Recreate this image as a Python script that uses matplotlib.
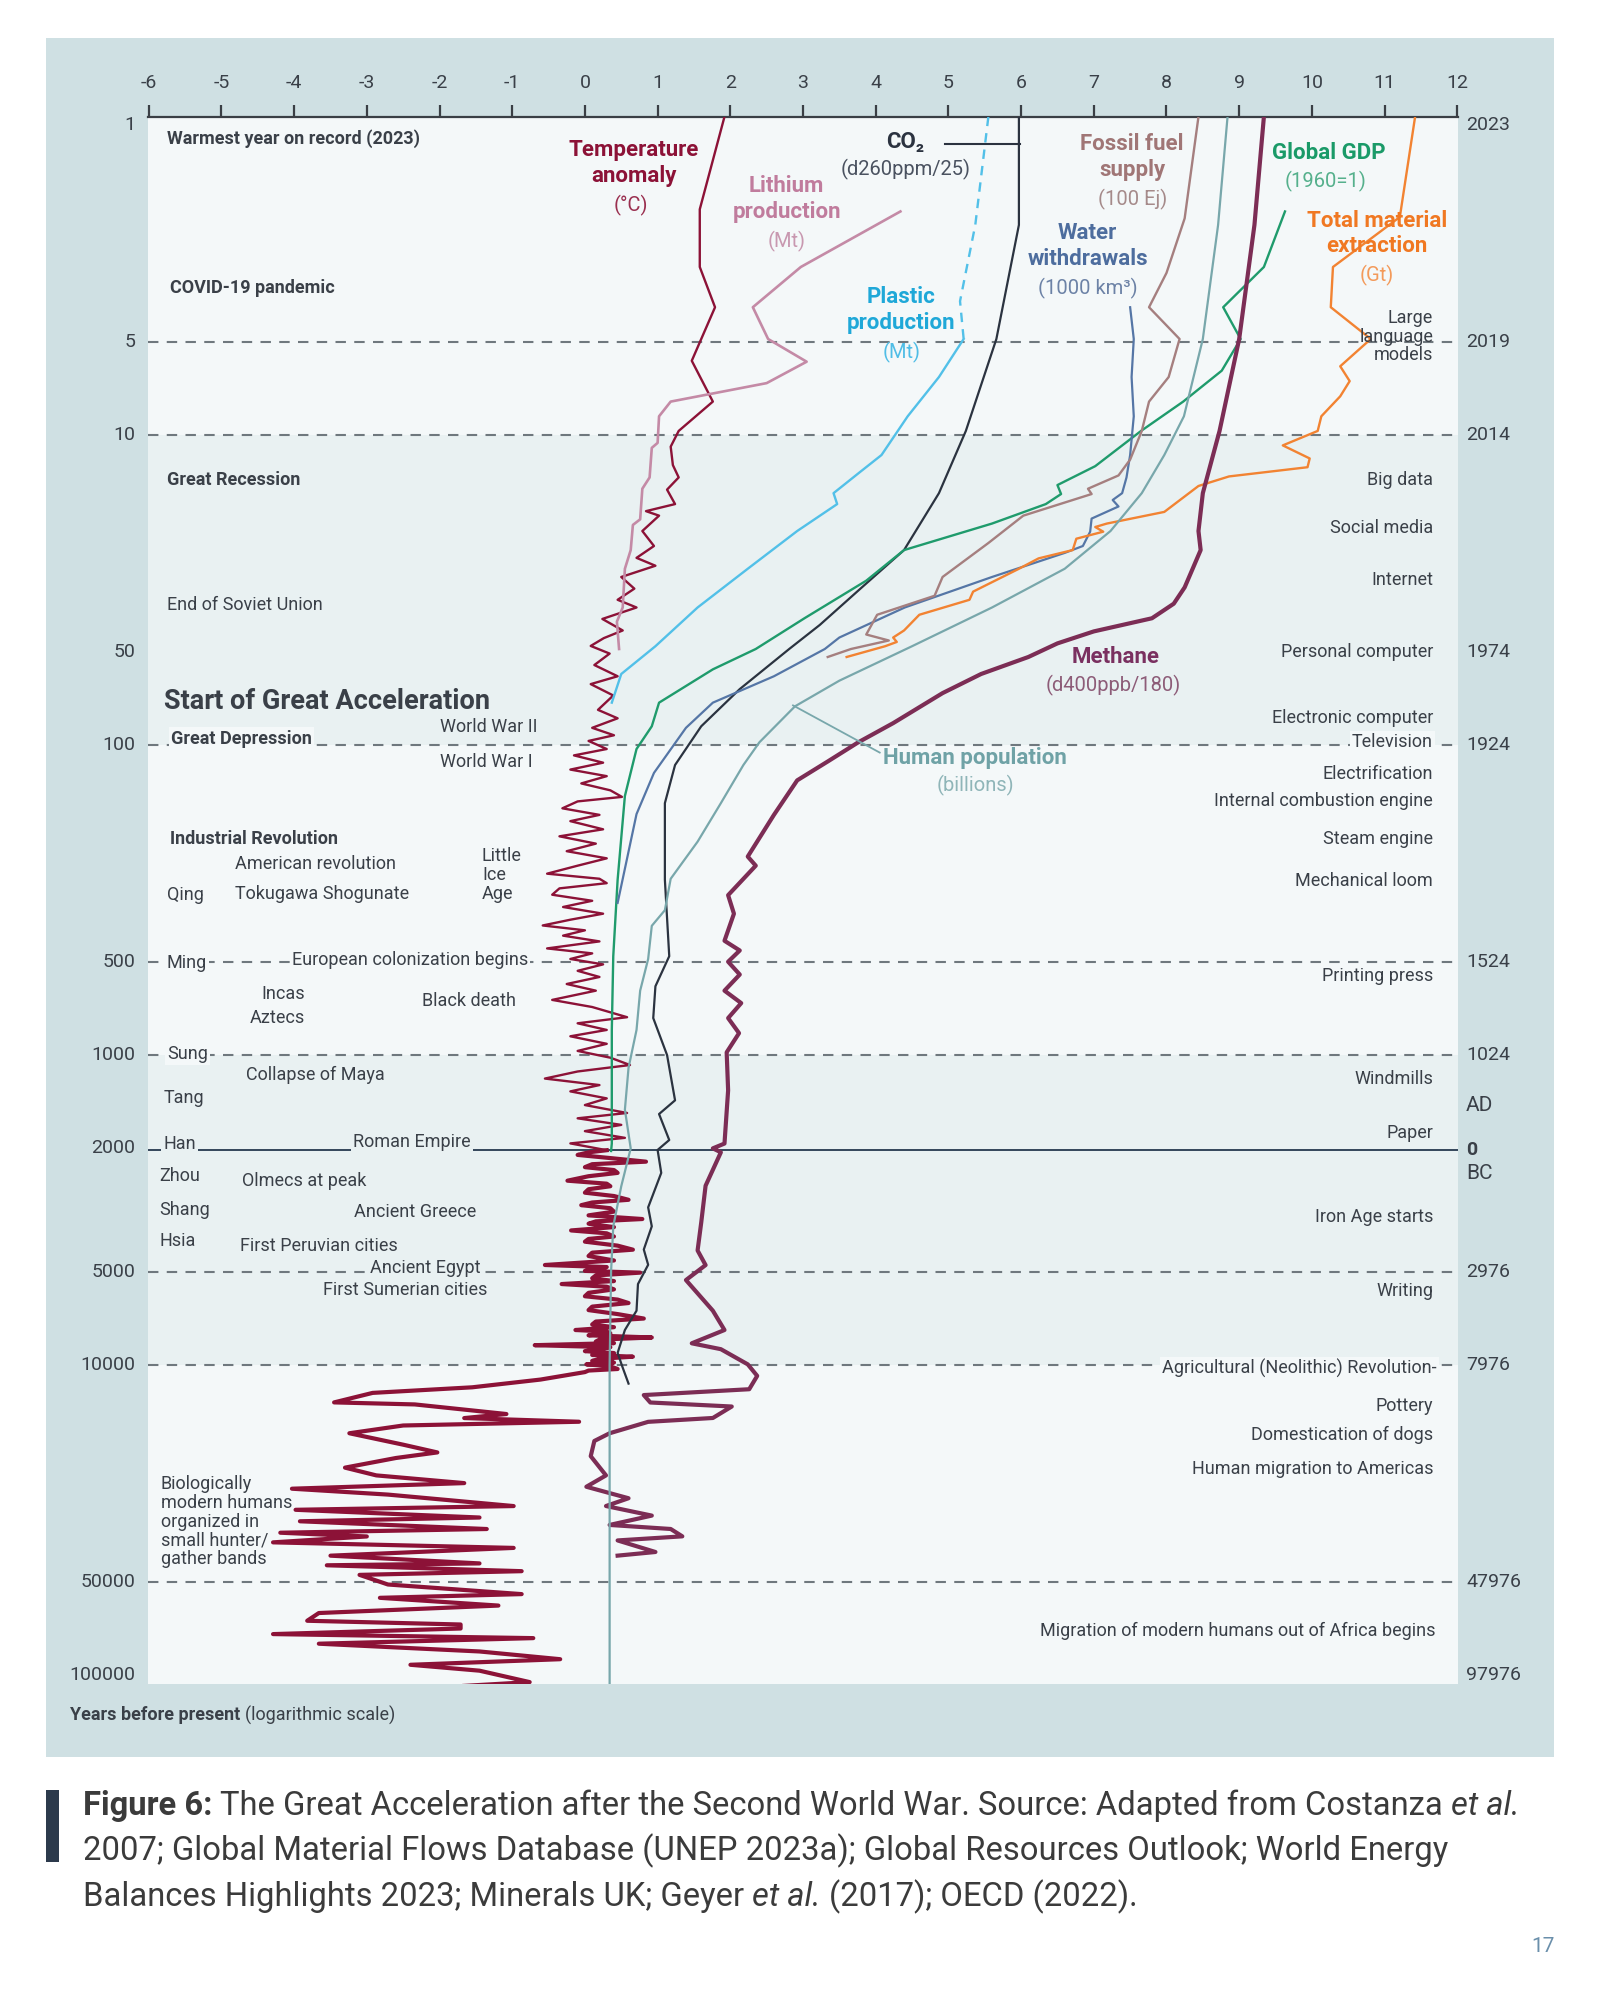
import numpy as np
import matplotlib
matplotlib.use('Agg')
import matplotlib.pyplot as plt
from matplotlib import transforms
from matplotlib.patches import Rectangle
from matplotlib.ticker import NullLocator

plt.rcParams['font.family'] = ['Roboto', 'DejaVu Sans']

# ---------------- data (years before present, chart value) ----------------
x_ticks = list(range(-6, 13))
left_ticks = [1, 5, 10, 50, 100, 500, 1000, 2000, 5000, 10000, 50000, 100000]
left_labels = ['1', '5', '10', '50', '100', '500', '1000', '2000', '5000', '10000', '50000', '100000']
right_ticks = [1, 5, 10, 50, 100, 500, 1000, 2024, 5000, 10000, 50000, 100000]
right_labels = ['2023', '2019', '2014', '1974', '1924', '1524', '1024', '0', '2976', '7976', '47976', '97976']
dashed_years = [5, 10, 100, 500, 1000, 5000, 10000, 50000]
ad_year = 2024

temperature_recent = [
    (0.94, 1.92), (1.87, 1.58), (2.87, 1.58), (3.87, 1.79), (5.76, 1.47), (7.8, 1.76), (9.7, 1.29),
    (10.9, 1.18), (12.5, 1.21), (13.7, 1.29), (15, 1.13), (16.7, 1.24), (17.6, 0.84), (18.2, 1.02),
    (20.4, 0.79), (22.8, 0.95), (24.9, 0.71), (26.4, 0.97), (28.7, 0.50), (31.3, 0.68), (34, 0.45),
    (36, 0.71), (39.2, 0.24), (42.7, 0.52), (45.2, 0.26), (47.9, 0.08), (50.7, 0.34), (55.2, 0.13),
    (60, 0.45), (63.6, 0.08), (69.2, 0.39), (77, 0.18), (82, 0.45), (88, 0.10), (93, 0.40), (97, 0.05),
    (103, 0.30), (108, -0.15), (114, 0.25), (120, -0.20), (126, 0.30), (133, -0.05), (140, 0.35),
    (147, 0.51), (152, -0.10), (160, -0.31), (168, 0.20), (176, -0.20), (187, 0.25), (197, -0.35),
    (208, 0.15), (220, -0.25), (232, 0.30), (245, -0.10), (260, -0.52), (270, 0.20), (279, 0.30),
    (290, -0.35), (304, -0.45), (318, 0.10), (333, -0.30), (350, 0.25), (366, -0.20), (382, -0.58),
    (396, 0.00), (412, -0.30), (430, 0.20), (453, -0.52), (470, 0.10), (490, -0.20), (510, 0.25),
    (535, -0.10), (560, 0.20), (590, -0.25), (620, 0.15), (664, -0.45), (700, 0.10), (755, 0.58),
    (790, -0.10), (830, 0.30), (870, -0.20), (920, 0.30), (970, -0.10), (1020, 0.35), (1077, 0.62),
    (1130, -0.10), (1191, -0.55), (1250, 0.20), (1310, -0.20), (1380, 0.30), (1450, 0.00), (1538, 0.58),
    (1600, -0.10), (1680, 0.50), (1760, 0.00), (1850, 0.55), (1928, -0.20)]

temperature_ancient = [
    (2028, 0.30), (2060, 0.05), (2100, -0.10), (2150, 0.35), (2208, 0.84), (2250, 0.10), (2300, 0.00),
    (2350, 0.40), (2400, 0.45), (2460, 0.05), (2543, -0.24), (2600, 0.30), (2650, 0.35), (2710, 0.05),
    (2780, 0.00), (2850, 0.40), (2931, 0.60), (2990, 0.10), (3050, -0.05), (3120, 0.35), (3200, 0.40),
    (3290, 0.05), (3381, 0.79), (3440, 0.15), (3500, 0.05), (3590, 0.40), (3680, -0.19), (3760, 0.30),
    (3850, 0.40), (3920, 0.05), (4000, 0.00), (4120, 0.45), (4245, 0.66), (4340, 0.10), (4450, 0.05),
    (4600, 0.40), (4757, -0.55), (4830, 0.30), (4900, 0.20), (4970, 0.00), (5035, 0.76), (5140, 0.15),
    (5250, 0.10), (5360, 0.40), (5480, -0.32), (5590, 0.30), (5700, 0.40), (5850, 0.05), (6000, 0.00),
    (6150, 0.45), (6310, 0.60), (6480, 0.10), (6650, 0.05), (6850, 0.45), (7080, 0.81), (7240, 0.15),
    (7400, 0.10), (7550, 0.40), (7710, -0.13), (7800, 0.30), (7900, 0.35), (8020, 0.05), (8150, 0.92),
    (8280, 0.20), (8400, 0.15), (8500, 0.40), (8630, -0.69), (8760, 0.35), (8900, 0.20), (9020, 0.00),
    (9150, 0.40), (9280, 0.10), (9400, 0.66), (9550, 0.20), (9700, 0.10), (9820, 0.40), (9950, 0.02),
    (10100, 0.35), (10300, 0.45), (10420, 0.05), (10540, 0.00),
    (11140, -0.61), (11800, -1.55), (12300, -2.92), (13200, -3.45), (13400, -2.34), (14390, -1.08),
    (14830, -1.66), (15240, -0.08), (15670, -2.50), (16600, -3.24), (18070, -2.50), (19140, -2.03),
    (19950, -2.60), (21430, -3.30), (22700, -2.87), (24040, -1.66), (25060, -4.03), (26180, -2.71),
    (28510, -0.98), (29310, -3.98), (31040, -1.45), (31920, -3.92), (33810, -1.35), (34750, -4.19),
    (35730, -3.00), (37330, -4.29), (38900, -0.98), (41210, -3.50), (43650, -1.45), (44260, -3.55),
    (46240, -0.87), (47530, -3.10), (51050, -2.71), (54830, -0.87), (56360, -2.82), (59700, -1.19),
    (63100, -3.66), (66830, -3.82), (68710, -1.71), (70790, -1.71), (73790, -4.29), (76030, -0.71),
    (79250, -3.66), (83950, -1.45), (88920, -0.34), (92680, -2.40), (96830, -1.45), (105400, -0.76),
    (108400, -1.66)]

lithium = [(1.9, 4.34), (2.87, 2.97), (3.87, 2.31), (4.9, 2.52), (5.8, 3.05), (6.8, 2.50), (7.8, 1.18),
           (8.7, 1.02), (10.6, 1.00), (11, 0.92), (13.7, 0.89), (14.9, 0.79), (18.7, 0.76), (19.5, 0.66),
           (23.5, 0.63), (27, 0.55), (36, 0.52), (40, 0.44), (49, 0.47)]

co2 = [(0.94, 5.97), (2.1, 5.97), (4.9, 5.66), (9.7, 5.24), (15.4, 4.87), (23.5, 4.39), (31, 3.81),
       (41, 3.23), (49, 2.81), (66, 2.13), (87, 1.60), (116, 1.24), (154, 1.10), (272, 1.10), (480, 1.16),
       (600, 0.97), (760, 0.94), (1000, 1.13), (1400, 1.24), (1550, 1.02), (1880, 1.16), (2024, 1.00),
       (2400, 1.05), (3100, 0.87), (3570, 0.92), (4240, 0.81), (4750, 0.87), (5480, 0.73), (6680, 0.71),
       (7710, 0.55), (9140, 0.45), (10200, 0.52), (11480, 0.60)]

plastic_projection = [(0.94, 5.55), (2.1, 5.37), (3.7, 5.16), (4.9, 5.21)]
plastic = [(4.9, 5.21), (6.5, 4.87), (8.7, 4.44), (11.6, 4.08), (13.3, 3.76), (15.4, 3.42), (16.7, 3.47),
           (20.4, 2.92), (27, 2.24), (36, 1.55), (48, 0.97), (59, 0.50), (73, 0.37)]

fossil = [(0.94, 8.44), (2.0, 8.25), (3.0, 8.0), (3.87, 7.76), (4.9, 8.18), (6.5, 8.03), (7.8, 7.76),
          (9.7, 7.66), (12, 7.5), (13.5, 7.34), (14.9, 6.92), (15.5, 6.97), (18.2, 6.03), (22.3, 5.55),
          (28.7, 4.92), (33, 4.81), (38, 4.02), (44, 3.87), (46, 4.18), (49, 3.66), (52, 3.34)]

water = [(3.87, 7.50), (4.9, 7.55), (6.5, 7.52), (8.7, 7.55), (11.6, 7.50), (13.7, 7.45), (15.4, 7.39),
         (16.2, 7.26), (17, 7.34), (18.6, 6.97), (20.5, 6.95), (22.8, 6.85), (24, 6.6), (28.7, 5.6),
         (36, 4.4), (45, 3.5), (49, 3.3), (60, 2.6), (73, 1.76), (88, 1.39), (123, 0.95), (167, 0.71),
         (323, 0.45)]

gdp = [(1.9, 9.63), (2.87, 9.34), (3.87, 8.78), (4.9, 9.02), (6.2, 8.76), (7.8, 8.23), (9.7, 7.65),
       (12.6, 7.02), (14.5, 6.5), (15.5, 6.55), (16.7, 6.34), (19.3, 5.6), (23.5, 4.39), (29.5, 3.87),
       (39, 3.02), (49, 2.35), (57, 1.76), (73, 1.02), (87, 0.92), (103, 0.71), (146, 0.55), (272, 0.45),
       (480, 0.39), (830, 0.37), (1930, 0.37), (2040, 0.36)]

material = [(0.94, 11.42), (1.98, 11.21), (2.87, 10.29), (3.87, 10.26), (4.9, 10.81), (6.0, 10.39),
            (6.7, 10.52), (7.5, 10.39), (8.7, 10.13), (9.7, 10.08), (10.8, 9.6), (11.9, 9.97),
            (12.7, 9.94), (13.6, 8.86), (14.6, 8.44), (17.7, 7.97), (19.3, 7.18), (19.8, 7.02),
            (20.5, 7.13), (21.6, 6.76), (23.5, 6.71), (25, 6.24), (27, 5.97), (32, 5.34), (34, 5.29),
            (38, 4.6), (42.7, 4.39), (45, 4.24), (46.5, 4.29), (48, 4.13), (52, 3.6)]

methane = [(0.94, 9.34), (2.1, 9.21), (4.9, 9.0), (9.7, 8.73), (15.4, 8.50), (20.4, 8.44), (23.5, 8.47),
           (27, 8.36), (31, 8.25), (35, 8.1), (39, 7.8), (43, 7.0), (47, 6.5), (52, 6.1), (59, 5.45),
           (68, 4.92), (85, 4.24), (98, 3.76), (113, 3.34), (130, 2.92), (168, 2.6), (229, 2.24),
           (245, 2.35), (305, 1.97), (350, 2.05), (428, 1.92), (460, 2.13), (500, 1.97), (550, 2.13),
           (620, 1.92), (680, 2.15), (760, 1.97), (850, 2.12), (980, 1.95), (1300, 1.97), (1930, 1.92),
           (2000, 1.76), (2060, 1.87), (2640, 1.66), (3470, 1.6), (4270, 1.55), (4760, 1.66), (5320, 1.39),
           (6680, 1.76), (7710, 1.92), (8510, 1.47), (8890, 1.87), (9950, 2.24), (10840, 2.37),
           (11970, 2.26), (12500, 0.81), (13210, 0.90), (13610, 2.02), (14820, 1.76), (15250, 0.87),
           (16600, 0.34), (17580, 0.13), (19680, 0.08), (22700, 0.29), (24700, 0.02), (26900, 0.60),
           (28500, 0.29), (30600, 0.92), (32800, 0.34), (33800, 1.18), (35700, 1.34), (36800, 0.45),
           (40100, 0.97), (41200, 0.45)]

population = [(0.94, 8.84), (2.1, 8.71), (4.9, 8.50), (8.7, 8.24), (11.6, 7.97), (15.4, 7.66),
              (20.4, 7.23), (27, 6.6), (36, 5.6), (48, 4.5), (62, 3.5), (75, 2.89), (98, 2.40),
              (116, 2.18), (154, 1.87), (205, 1.55), (270, 1.18), (341, 1.10), (383, 0.92), (490, 0.87),
              (620, 0.76), (830, 0.71), (1100, 0.60), (1500, 0.55), (2000, 0.63), (2650, 0.50),
              (3570, 0.39), (5000, 0.36), (10000, 0.34), (106900, 0.34)]

# ---------------- style ----------------
W, H = 1613, 2000
OUTER = '#cfe0e3'
LIGHT = '#f4f8f9'
DARK = '#e9f1f2'
TXT = '#3a4048'

C_TEMP = '#8c1237'
C_LITH = '#c48aa6'
C_CO2 = '#2b3340'
C_PLAS = '#52c0e8'
C_FOSS = '#a57f7f'
C_WATER = '#5576a6'
C_GDP = '#1f9b6c'
C_MAT = '#f28332'
C_METH = '#7c2d55'
C_POP = '#78a7ab'

fig = plt.figure(figsize=(W / 100, H / 100), dpi=100)
fig.patch.set_facecolor('white')
fig.patches.append(Rectangle((46 / W, 1 - 1757 / H), (1554 - 46) / W, (1757 - 38) / H,
                             transform=fig.transFigure, facecolor=OUTER, edgecolor='none', zorder=-10))

ax = fig.add_axes([148 / W, 1 - 1684 / H, 1310 / W, 1567 / H])
ax.set_zorder(2)
ax.set_facecolor(LIGHT)
ax.set_yscale('log')
ax.set_ylim(106900, 0.942)
ax.set_xlim(-6.01, 12.01)
ax.yaxis.set_major_locator(NullLocator())
ax.yaxis.set_minor_locator(NullLocator())
ax.xaxis.tick_top()
ax.set_xticks(x_ticks)
ax.set_xticklabels([str(v) for v in x_ticks])
ax.xaxis.set_minor_locator(NullLocator())
ax.tick_params(axis='x', direction='out', length=9, width=1.6, color='#3a3f45',
               labelsize=14, labelcolor=TXT, pad=9)
for s in ['left', 'right', 'bottom']:
    ax.spines[s].set_visible(False)
ax.spines['top'].set_color('#3a3f45')
ax.spines['top'].set_linewidth(1.6)

# decade bands
ax.axhspan(10, 100, color=DARK, zorder=0, lw=0)
ax.axhspan(1000, 10000, color=DARK, zorder=0, lw=0)

for y in dashed_years:
    ax.axhline(y, color='#6f787e', lw=1.5, ls=(0, (5, 4)), zorder=1)
ax.axhline(ad_year, color='#34465a', lw=1.4, zorder=1)


def plot_series(pts, color, lw, ls='-', z=3, **kw):
    ys, vs = zip(*pts)
    ax.plot(vs, ys, color=color, lw=lw, ls=ls, zorder=z, solid_joinstyle='round', **kw)


# temperature
plot_series(temperature_recent + temperature_ancient[:1], C_TEMP, 1.7, z=3)
plot_series(temperature_ancient, C_TEMP, 3.0, z=3)

plot_series(lithium, C_LITH, 1.9, z=3)
plot_series(plastic_projection, C_PLAS, 1.7, ls=(0, (4, 3)), z=3)
plot_series(plastic, C_PLAS, 1.7, z=3)
plot_series(co2, C_CO2, 1.6, z=3)
plot_series(gdp, C_GDP, 1.7, z=3)
plot_series(water, C_WATER, 1.6, z=3)
plot_series(fossil, C_FOSS, 1.7, z=3)
plot_series(material, C_MAT, 1.7, z=3)
plot_series(methane, C_METH, 3.0, z=3)
plot_series(population, C_POP, 1.6, z=4)


# ---------------- text helpers ----------------
def D(dx, dy):
    """Convert a position measured on the 1265-px preview into data coords."""
    return ((dx * 1.2751 - 585) / 72.7, 10 ** ((dy * 1.2755 - 125) / 310))


def ann(dx, dy, s, ha='left', bold=False, size=13, color=TXT, bg=None, ls=1.2):
    x, y = D(dx, dy)
    bbox = dict(boxstyle='square,pad=0.12', fc=bg, ec='none') if bg else None
    ax.text(x, y, s, ha=ha, va='center', fontsize=size, fontweight='bold' if bold else 'normal',
            color=color, bbox=bbox, zorder=6, linespacing=ls, clip_on=False)


# leader lines (annotations)
p1, p2 = D(741, 113), D(800, 113)
ax.plot([p1[0], p2[0]], [p1[1], p2[1]], color=C_CO2, lw=1.5, zorder=5)
q1, q2 = D(622, 553), D(690, 590)
ax.plot([q1[0], q2[0]], [q1[1], q2[1]], color=C_POP, lw=1.3, zorder=5)

# left axis / right axis labels
trans = transforms.blended_transform_factory(ax.transAxes, ax.transData)
for y, lab in zip(left_ticks, left_labels):
    ax.text(-0.0095, y, lab, ha='right', va='center', transform=trans, fontsize=14, color=TXT, clip_on=False)
for y, lab in zip(right_ticks, right_labels):
    ax.text(1.0061, y, lab, ha='left', va='center', transform=trans, fontsize=14, color=TXT,
            fontweight='bold' if lab == '0' else 'normal', clip_on=False)
ax.text(1.0061, D(0, 867)[1], 'AD', ha='left', va='center', transform=trans, fontsize=15, color=TXT, clip_on=False)
ax.text(1.0061, D(0, 920)[1], 'BC', ha='left', va='center', transform=trans, fontsize=15, color=TXT, clip_on=False)

# left event annotations
ann(131, 109, 'Warmest year on record (2023)', bold=True)
ann(133, 226, 'COVID-19 pandemic', bold=True)
ann(131, 376, 'Great Recession', bold=True)
ann(131, 474, 'End of Soviet Union')
ann(129, 550, 'Start of Great Acceleration', bold=True, size=19.5)
ann(134, 579, 'Great Depression', bold=True, bg=LIGHT)
ann(345, 570, 'World War II')
ann(345, 597, 'World War I')
ann(133, 658, 'Industrial Revolution', bold=True)
ann(184, 677, 'American revolution')
ann(131, 702, 'Qing')
ann(184, 701, 'Tokugawa Shogunate')
ann(378, 686, 'Little\nIce\nAge', ls=1.1)
ann(131, 755, 'Ming', bg=LIGHT)
ann(229, 753, 'European colonization begins', bg=LIGHT)
ann(205, 779, 'Incas')
ann(196, 798, 'Aztecs')
ann(331, 785, 'Black death')
ann(131, 826, 'Sung', bg=LIGHT)
ann(193, 843, 'Collapse of Maya')
ann(128, 861, 'Tang')
ann(128, 897, 'Han', bg=DARK)
ann(277, 895, 'Roman Empire', bg=DARK)
ann(125, 922, 'Zhou')
ann(190, 926, 'Olmecs at peak')
ann(125, 949, 'Shang')
ann(278, 950, 'Ancient Greece')
ann(125, 973, 'Hsia')
ann(188, 977, 'First Peruvian cities')
ann(290, 994, 'Ancient Egypt', bg=DARK)
ann(253, 1011, 'First Sumerian cities')
ann(126, 1193, 'Biologically\nmodern humans\norganized in\nsmall hunter/\ngather bands', ls=1.05)

# right event annotations
RX = 1124
ann(RX, 264, 'Large\nlanguage\nmodels', ha='right', ls=1.05)
ann(RX, 376, 'Big data', ha='right')
ann(RX, 414, 'Social media', ha='right')
ann(RX, 455, 'Internet', ha='right')
ann(RX, 511, 'Personal computer', ha='right')
ann(RX, 563, 'Electronic computer', ha='right')
ann(RX, 582, 'Television', ha='right', bg=LIGHT)
ann(RX, 607, 'Electrification', ha='right')
ann(RX, 628, 'Internal combustion engine', ha='right')
ann(RX, 658, 'Steam engine', ha='right')
ann(RX, 691, 'Mechanical loom', ha='right')
ann(RX, 765, 'Printing press', ha='right')
ann(RX, 846, 'Windmills', ha='right')
ann(RX, 888, 'Paper', ha='right')
ann(RX, 954, 'Iron Age starts', ha='right')
ann(RX, 1012, 'Writing', ha='right')
ann(1127, 1073, 'Agricultural (Neolithic) Revolution-', ha='right', bg=LIGHT)
ann(RX, 1102, 'Pottery', ha='right')
ann(RX, 1125, 'Domestication of dogs', ha='right')
ann(RX, 1152, 'Human migration to Americas', ha='right')
ann(1126, 1279, 'Migration of modern humans out of Africa begins', ha='right')

# series labels
SL = 16
LS = 1.22
ann(497, 128, 'Temperature\nanomaly', ha='center', bold=True, size=SL, color=C_TEMP, ls=LS)
ann(495, 161, '(°C)', ha='center', size=14.5, color='#9a3050')
ann(617, 156, 'Lithium\nproduction', ha='center', bold=True, size=SL, color='#c07c9d', ls=LS)
ann(617, 189, '(Mt)', ha='center', size=14.5, color='#c898b0')
ann(710, 111, 'CO₂', ha='center', bold=True, size=SL, color=C_CO2)
ann(710, 133, '(d260ppm/25)', ha='center', size=14.5, color='#4a5260')
ann(707, 243, 'Plastic\nproduction', ha='center', bold=True, size=SL, color='#1fa8d8', ls=LS)
ann(707, 276, '(Mt)', ha='center', size=14.5, color='#4fbde6')
ann(888, 123, 'Fossil fuel\nsupply', ha='center', bold=True, size=SL, color='#a07676', ls=LS)
ann(888, 156, '(100 Ej)', ha='center', size=14.5, color='#a58a8a')
ann(853, 193, 'Water\nwithdrawals', ha='center', bold=True, size=SL, color='#4d6d9e', ls=LS)
ann(853, 226, '(1000 km³)', ha='center', size=14.5, color='#6c82a6')
ann(1042, 120, 'Global GDP', ha='center', bold=True, size=SL, color='#1a9a68')
ann(1040, 142, '(1960=1)', ha='center', size=14.5, color='#55b08c')
ann(1080, 183, 'Total material\nextraction', ha='center', bold=True, size=SL, color='#f07822', ls=LS)
ann(1080, 216, '(Gt)', ha='center', size=14.5, color='#f39a5a')
ann(875, 515, 'Methane', ha='center', bold=True, size=SL, color='#7a3060')
ann(873, 537, '(d400ppb/180)', ha='center', size=14.5, color='#8d5c78')
ann(765, 594, 'Human population', ha='center', bold=True, size=SL, color='#6fa2a6')
ann(765, 616, '(billions)', ha='center', size=14.5, color='#8fb5b8')

# ---------------- rich text (figure level) ----------------
renderer = fig.canvas.get_renderer()


def text_width(s, size, **kw):
    t = fig.text(0, 0, s, fontsize=size, **kw)
    w = t.get_window_extent(renderer=renderer).width
    t.remove()
    return w


def rich_line(x_px, y_px, parts, size, color):
    sp = text_width('a a', size) - text_width('aa', size)
    x = x_px
    for s, kw in parts:
        lead = len(s) - len(s.lstrip(' '))
        trail = len(s) - len(s.rstrip(' '))
        x += lead * sp
        core = s.strip(' ')
        t = fig.text(x / W, 1 - y_px / H, core, fontsize=size, color=color, va='center', ha='left', **kw)
        x += t.get_window_extent(renderer=renderer).width + trail * sp


B = dict(fontweight='bold')
N = dict()
I = dict(fontstyle='italic')

rich_line(70, 1715, [('Years before present', B), (' (logarithmic scale)', N)], 13, TXT)

fig.patches.append(Rectangle((46 / W, 1 - 1862 / H), 13 / W, 72 / H, transform=fig.transFigure,
                             facecolor='#2c3a4c', edgecolor='none'))
CAP = 23.6
CAPC = '#3b3b3b'
rich_line(83, 1806, [('Figure 6:', B),
                     (' The Great Acceleration after the Second World War. Source: Adapted from Costanza ', N),
                     ('et al.', I)], CAP, CAPC)
rich_line(83, 1851, [('2007; Global Material Flows Database (UNEP 2023a); Global Resources Outlook; World Energy', N)],
          CAP, CAPC)
rich_line(83, 1897, [('Balances Highlights 2023; Minerals UK; Geyer ', N), ('et al.', I),
                     (' (2017); OECD (2022).', N)], CAP, CAPC)

fig.text(1543 / W, 1 - 1946 / H, '17', fontsize=15, color='#6a8fab', ha='center', va='center')

fig.savefig('out.png', dpi=100)
